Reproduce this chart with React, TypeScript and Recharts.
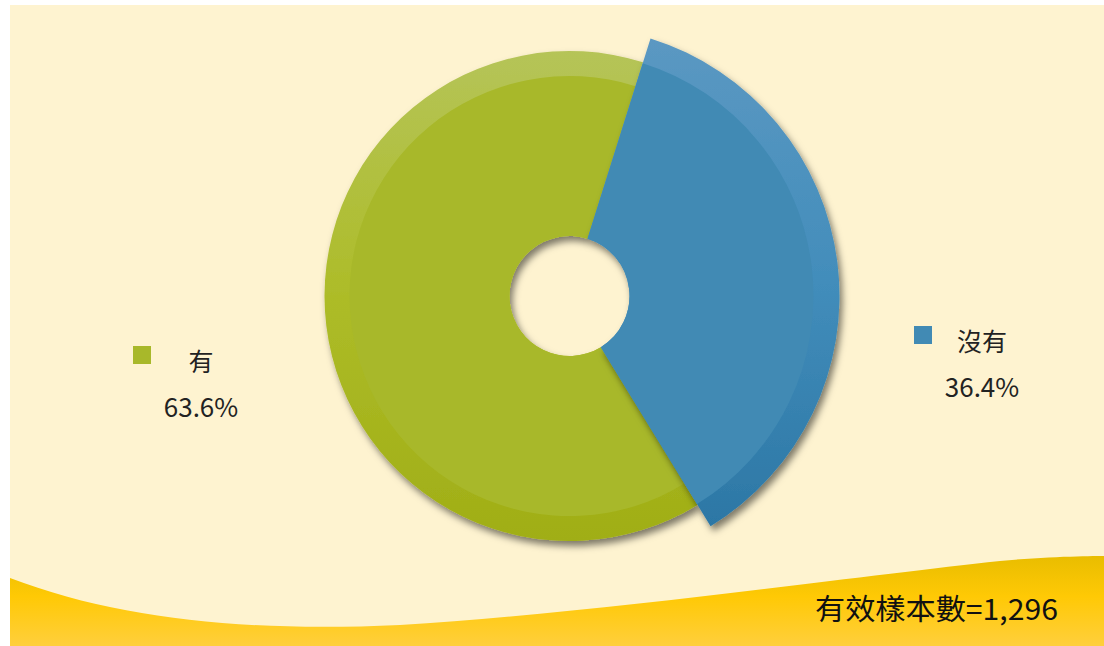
import { Cell, Pie, PieChart } from "recharts";

const CATEGORIES = ["有", "沒有"];
const VALUES = [63.6, 36.4];
const SAMPLE_SIZE = "1,296";

const data = CATEGORIES.map((name, i) => ({ name, value: VALUES[i] }));

const FONT = '"Noto Sans CJK TC", "Noto Sans", sans-serif';
const KEY_COLORS = ["#a8b82a", "#418ab4"];

// label block placement relative to the pie centre
const LABEL_POS = [
  { dx: -368.5, dy: 75 },
  { dx: 412.5, dy: 55 },
];

const START = -58.5;

function renderLabel(props: any) {
  const { cx, cy, index, name, value } = props;
  const p = LABEL_POS[index];
  const x = cx + p.dx;
  const y = cy + p.dy;
  return (
    <g key={`lbl-${index}`}>
      <rect x={x - 68} y={y - 25} width={18} height={18} fill={KEY_COLORS[index]} />
      <text x={x} y={y} textAnchor="middle" fontSize={25} fill="#222" fontFamily={FONT}>
        {name}
      </text>
      <text x={x} y={y + 46} textAnchor="middle" fontSize={26} fill="#222" fontFamily={FONT}>
        {`${Number(value).toFixed(1)}%`}
      </text>
    </g>
  );
}

export default function App() {
  const common = {
    data,
    dataKey: "value",
    nameKey: "name",
    cx: 559.5,
    cy: 291,
    startAngle: START,
    endAngle: START - 360,
    innerRadius: 60,
    stroke: "none",
    isAnimationActive: false,
    labelLine: false,
  };

  return (
    <div
      style={{
        position: "fixed",
        left: 0,
        top: 0,
        width: 1104,
        height: 646,
        background: "#ffffff",
        overflow: "hidden",
      }}
    >
      <div
        style={{
          position: "absolute",
          left: 10,
          top: 5,
          width: 1094,
          height: 641,
          background: "#fef3d0",
        }}
      >
        <svg
          width={1094}
          height={641}
          style={{ position: "absolute", left: 0, top: 0 }}
        >
          <defs>
            <linearGradient id="waveGrad" x1="0" y1="0" x2="0" y2="1">
              <stop offset="0%" stopColor="#e9bd00" />
              <stop offset="45%" stopColor="#ffc905" />
              <stop offset="100%" stopColor="#ffcf3c" />
            </linearGradient>
          </defs>
          <path
            d="M0,573 C110,615 240,627 390,620 C590,608 840,572 990,556 C1040,551 1094,551 1094,551 L1094,641 L0,641 Z"
            fill="url(#waveGrad)"
          />
          <text
            x={805}
            y={615}
            fontSize={29}
            fill="#111"
            fontFamily={FONT}
            textLength={243}
            lengthAdjust="spacingAndGlyphs"
          >
            {`有效樣本數=${SAMPLE_SIZE}`}
          </text>
        </svg>
        <div style={{ position: "absolute", left: 0, top: 0 }}>
          <PieChart width={1094} height={641} margin={{ top: 0, right: 0, bottom: 0, left: 0 }}>
            <defs>
              <filter id="dropShadow" x="-15%" y="-15%" width="135%" height="135%">
                <feDropShadow dx="3" dy="5" stdDeviation="3.5" floodColor="#000" floodOpacity="0.5" />
              </filter>
              <linearGradient id="greenRing" x1="0" y1="0" x2="0" y2="1">
                <stop offset="0%" stopColor="#b5c458" />
                <stop offset="50%" stopColor="#adbc28" />
                <stop offset="100%" stopColor="#a0ae16" />
              </linearGradient>
              <linearGradient id="blueRing" x1="0" y1="0" x2="0" y2="1">
                <stop offset="0%" stopColor="#5b98c2" />
                <stop offset="50%" stopColor="#428dbb" />
                <stop offset="100%" stopColor="#2c77a5" />
              </linearGradient>
            </defs>
            {/* green outer ring with shadow */}
            <Pie {...common} outerRadius={245}>
              <Cell fill="url(#greenRing)" filter="url(#dropShadow)" />
              <Cell fill="transparent" />
            </Pie>
            <Pie {...common} outerRadius={220}>
              <Cell fill="#a8b82a" />
              <Cell fill="transparent" />
            </Pie>
            {/* blue exploded slice, bigger radius */}
            <Pie {...common} outerRadius={270}>
              <Cell fill="transparent" />
              <Cell fill="url(#blueRing)" filter="url(#dropShadow)" />
            </Pie>
            <Pie {...common} outerRadius={244} label={renderLabel}>
              <Cell fill="transparent" />
              <Cell fill="#418ab4" />
            </Pie>
          </PieChart>
        </div>
      </div>
    </div>
  );
}
